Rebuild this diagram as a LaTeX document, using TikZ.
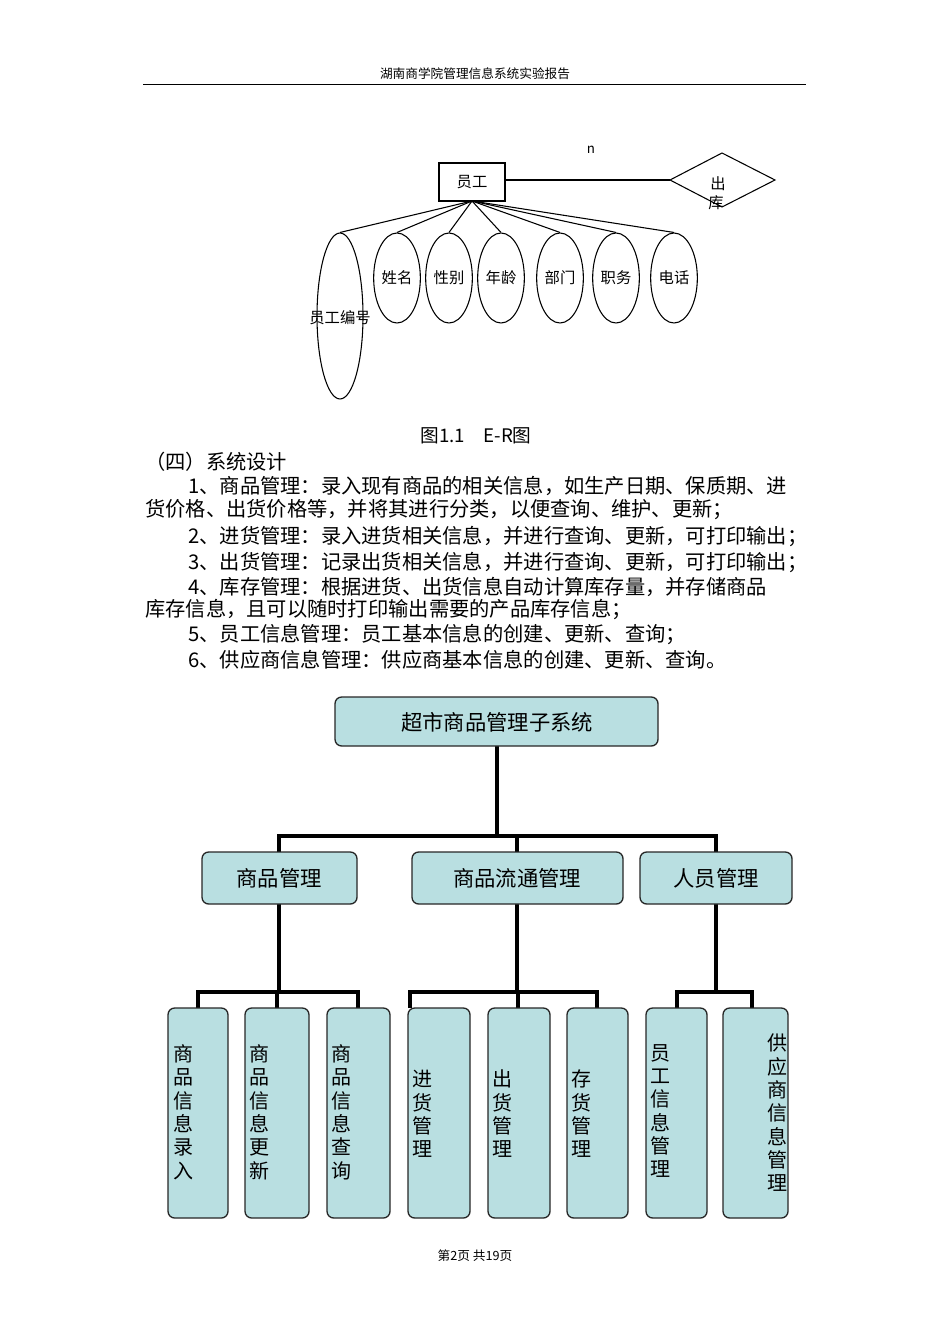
\documentclass[tikz,border=0pt]{standalone}
\usepackage{fontspec}
\setmainfont{Noto Sans CJK SC}
\usetikzlibrary{shapes.geometric}
\definecolor{boxfill}{HTML}{B9DFE1}
\tikzset{
 ell/.style={draw,ellipse,line width=0.8pt,inner sep=0pt,font=\fontsize{11.5pt}{13pt}\selectfont},
 body/.style={anchor=west,inner sep=0pt,font=\fontsize{15.2pt}{18pt}\selectfont},
 org/.style={draw=black!85,fill=boxfill,rounded corners=5pt,line width=1pt,font=\fontsize{16pt}{19pt}\selectfont},
 vbox/.style={draw=black!85,fill=boxfill,rounded corners=5pt,line width=1pt},
 vtxt/.style={font=\fontsize{15pt}{17.5pt}\selectfont,align=center,inner sep=0pt},
 conn/.style={line width=2.4pt},
 erl/.style={line width=0.8pt}
}
\begin{document}
\begin{tikzpicture}[x=0.75pt,y=-0.75pt]
\useasboundingbox (0,0) rectangle (950,1344);
\node (hdr) at (475,74) {\fontsize{9.5pt}{11pt}\selectfont 湖南商学院管理信息系统实验报告};
\coordinate (hl) at (143,84); \coordinate (hr) at (806,84);
\draw[line width=0.6pt] (hl) -- (hr);
% ER
\node[draw,line width=0.8pt,minimum width=49.5pt,minimum height=28.5pt,inner sep=0pt,font=\fontsize{11.5pt}{13pt}\selectfont] (emp) at (472,182) {员工};
\coordinate (ebot) at (472,201);
\coordinate (er) at (505,180);
\coordinate (dl) at (670,180);
\draw[line width=0.8pt] (dl) -- (722,153) -- (775,180) -- (722,207) -- cycle;
\draw[erl] (er) -- (dl);
\node (d1) at (718,184) {\fontsize{11.5pt}{13pt}\selectfont 出};
\node (d2) at (716,203) {\fontsize{11.5pt}{13pt}\selectfont 库};
\node (nlab) at (591,150) {\fontsize{10pt}{12pt}\selectfont n};
\node[ell,minimum width=34.5pt,minimum height=124.5pt] (e0) at (340,316) {};
\node (e0t) at (340,318) {\fontsize{11.5pt}{13pt}\selectfont 员工编号};
\foreach \n/\x/\t in {1/397/姓名,2/449/性别,3/501/年龄,4/560/部门,5/616/职务,6/674/电话}{
  \node[ell,minimum width=35pt,minimum height=67.5pt] (e\n) at (\x,278) {\t};
}
\foreach \n in {0,...,6}{\draw[erl] (ebot) -- (e\n.north);}
\node (cap) at (476,436) {\fontsize{14pt}{16pt}\selectfont 图1.1\quad E-R图};
% body text
\node[body] (l1) at (145,462) {（四）系统设计};
\node[body] (l2) at (188,486) {1、商品管理：录入现有商品的相关信息，如生产日期、保质期、进};
\node[body] (l3) at (145,510) {货价格、出货价格等，并将其进行分类，以便查询、维护、更新；};
\node[body] (l4) at (188,537) {2、进货管理：录入进货相关信息，并进行查询、更新，可打印输出；};
\node[body] (l5) at (188,563) {3、出货管理：记录出货相关信息，并进行查询、更新，可打印输出；};
\node[body] (l6) at (188,587) {4、库存管理：根据进货、出货信息自动计算库存量，并存储商品};
\node[body] (l7) at (145,610) {库存信息，且可以随时打印输出需要的产品库存信息；};
\node[body] (l8) at (188,635) {5、员工信息管理：员工基本信息的创建、更新、查询；};
\node[body] (l9) at (188,660) {6、供应商信息管理：供应商基本信息的创建、更新、查询。};
% org chart
\draw[conn] (497,746) -- (497,836);
\draw[conn] (279,852) -- (279,836) -- (716,836) -- (716,852);
\draw[conn] (517,836) -- (517,852);
\draw[conn] (279,904) -- (279,992);
\draw[conn] (198,1008) -- (198,992) -- (358,992) -- (358,1008);
\draw[conn] (277,992) -- (277,1008);
\draw[conn] (517,904) -- (517,992);
\draw[conn] (410,1008) -- (410,992) -- (597,992) -- (597,1008);
\draw[conn] (518,992) -- (518,1008);
\draw[conn] (716,904) -- (716,992);
\draw[conn] (677,1008) -- (677,992) -- (752,992) -- (752,1008);
\draw[org] (335,697) rectangle (658,746);
\node (top) at (497,722) {\fontsize{16pt}{19pt}\selectfont 超市商品管理子系统};
\draw[org] (202,852) rectangle (357,904);
\node (m1) at (279,878) {\fontsize{16pt}{19pt}\selectfont 商品管理};
\draw[org] (412,852) rectangle (623,904);
\node (m2) at (517,878) {\fontsize{16pt}{19pt}\selectfont 商品流通管理};
\draw[org] (640,852) rectangle (792,904);
\node (m3) at (716,878) {\fontsize{16pt}{19pt}\selectfont 人员管理};
\foreach \a/\b/\tx/\ty/\t in {168/228/183/1112/商\\品\\信\\息\\录\\入,
 245/309/259/1112/商\\品\\信\\息\\更\\新,
 327/390/341/1112/商\\品\\信\\息\\查\\询,
 408/470/422/1114/进\\货\\管\\理,
 488/550/502/1114/出\\货\\管\\理,
 567/628/581/1114/存\\货\\管\\理,
 646/707/660/1111/员\\工\\信\\息\\管\\理,
 723/788/777/1113/供\\应\\商\\信\\息\\管\\理}{
  \draw[vbox] (\a,1008) rectangle (\b,1218);
  \node[vtxt] at (\tx,\ty) {\t};
}
\node (ftr) at (475,1256) {\fontsize{9.5pt}{11pt}\selectfont 第2页 共19页};
\end{tikzpicture}
\end{document}
